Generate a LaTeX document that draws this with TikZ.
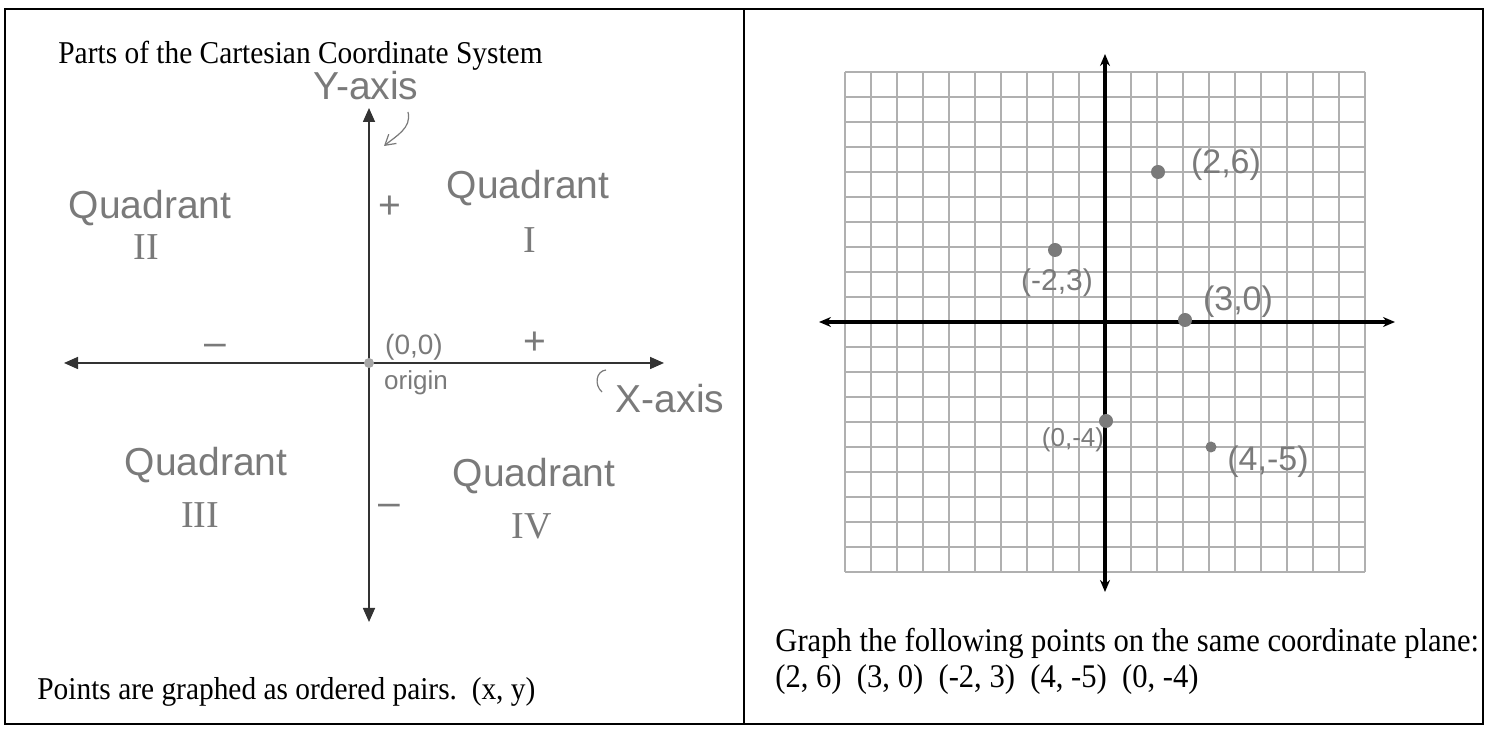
\documentclass[tikz,border=0pt]{standalone}
\usepackage{fontspec}
\setmainfont{Liberation Serif}
\newfontfamily\hand{Liberation Sans}
\usetikzlibrary{arrows.meta}
\definecolor{pencil}{HTML}{7A7A7A}
\definecolor{gridgray}{HTML}{B0B0B0}
\definecolor{axisgray}{HTML}{333333}
\newcommand{\tallprint}[1]{\scalebox{1}[1.08]{#1}}
\begin{document}
\begin{tikzpicture}[x=0.5pt,y=-0.5pt,
  frame/.style={line width=1pt,black},
  printed/.style={font=\fontsize{15.3}{18}\selectfont,inner sep=0pt},
  printedleft/.style={font=\fontsize{14.7}{18}\selectfont,inner sep=0pt},
  handtext/.style={font=\hand\fontsize{19.5}{22}\selectfont,text=pencil,inner sep=0pt},
  handnum/.style={font=\fontsize{19}{22}\selectfont,text=pencil,inner sep=0pt},
  handsmall/.style={font=\hand\fontsize{13}{15}\selectfont,text=pencil,inner sep=0pt},
  handlabel/.style={font=\hand\fontsize{17}{20}\selectfont,text=pencil,inner sep=0pt},
  leftaxis/.style={line width=0.8pt,axisgray,{Triangle[length=7pt,width=6pt]}-{Triangle[length=7pt,width=6pt]}},
  rightaxis/.style={line width=2pt,black,{Stealth[length=6pt,width=5pt]}-{Stealth[length=6pt,width=5pt]}},
  gridline/.style={line width=0.8pt,gridgray},
  dot/.style={circle,fill=pencil,inner sep=0pt,minimum size=7pt},
  pencilline/.style={line width=0.6pt,pencil}
]
\useasboundingbox (0,0) rectangle (1489,731);
\fill[white] (0,0) rectangle (1489,731);

% frame
\draw[frame] (5,9) rectangle (1483,724);
\draw[frame] (744,9) -- (744,724);

% ---------- left panel ----------
\node[printedleft,anchor=base west] (title) at (58,64) {\tallprint{Parts of the Cartesian Coordinate System}};

\coordinate (ytop) at (369,108);
\coordinate (ybot) at (369,622);
\coordinate (xleft) at (64,363);
\coordinate (xright) at (664,363);
\draw[leftaxis] (ybot) -- (ytop);
\draw[leftaxis] (xleft) -- (xright);
\node[circle,fill=gray!70,inner sep=0pt,minimum size=5pt] (origin) at (369,363) {};

\node[handtext] (ylab) at (366,86) {Y-axis};
\coordinate (yarrowend) at (384,146);
\draw[pencilline,-{Straight Barb[length=5pt,width=6pt]}] (408,112) .. controls (412,128) and (396,136) .. (yarrowend);

\node[handsmall,font=\hand\fontsize{14}{16}\selectfont] (oo) at (414,347) {(0,0)};
\node[handsmall] (orig) at (416,383) {origin};

\node[handtext] (plusy) at (390,207) {+};
\node[handtext] (plusx) at (535,343) {+};
\node[handtext] (minusx) at (215,350) {\textendash};
\node[handtext] (minusy) at (389,510) {\textendash};

\node[handtext] (q2) at (150,208) {Quadrant};
\node[handnum] (q2n) at (146,247) {II};
\node[handtext] (q1) at (528,188) {Quadrant};
\node[handnum] (q1n) at (530,240) {I};
\node[handtext] (q3) at (206,465) {Quadrant};
\node[handnum] (q3n) at (200,515) {III};
\node[handtext] (q4) at (534,476) {Quadrant};
\node[handnum] (q4n) at (532,526) {IV};

\node[handtext] (xlab) at (670,399) {X-axis};
\coordinate (xhook) at (606,370);
\draw[pencilline] (602,392) .. controls (594,385) and (596,371) .. (xhook);

\node[printedleft,anchor=base west] (pts) at (37,700) {\tallprint{Points are graphed as ordered pairs.\ \ (x, y)}};

% ---------- right panel ----------
\foreach \i in {0,...,20} {
  \draw[gridline] ({845+26*\i},72) -- ({845+26*\i},572);
}
\foreach \j in {0,...,20} {
  \draw[gridline] (845,{72+25*\j}) -- (1365,{72+25*\j});
}
\coordinate (vtop) at (1105,54);
\coordinate (vbot) at (1105,592);
\coordinate (hleft) at (819,322);
\coordinate (hright) at (1395,322);
\draw[rightaxis] (vbot) -- (vtop);
\draw[rightaxis] (hleft) -- (hright);

\node[dot] (p1) at (1158,172) {};
\node[dot] (p2) at (1185,320) {};
\node[dot] (p3) at (1055,250) {};
\node[dot,minimum size=5.5pt] (p4) at (1211,447) {};
\node[dot] (p5) at (1106,421) {};

\node[handlabel] (l1) at (1226,165) {(2,6)};
\node[handlabel] (l2) at (1238,302) {(3,0)};
\node[handsmall,font=\hand\fontsize{15}{17}\selectfont] (l3) at (1057,283) {(-2,3)};
\node[handlabel] (l4) at (1268,462) {(4,-5)};
\node[handsmall] (l5) at (1073,440) {(0,-4)};

\node[printed,anchor=base west] (g1) at (775,652) {\tallprint{Graph the following points on the same coordinate plane:}};
\node[printed,anchor=base west] (g2) at (775,688) {\tallprint{(2, 6)\ \ (3, 0)\ \ (-2, 3)\ \ (4, -5)\ \ (0, -4)}};
\end{tikzpicture}
\end{document}
